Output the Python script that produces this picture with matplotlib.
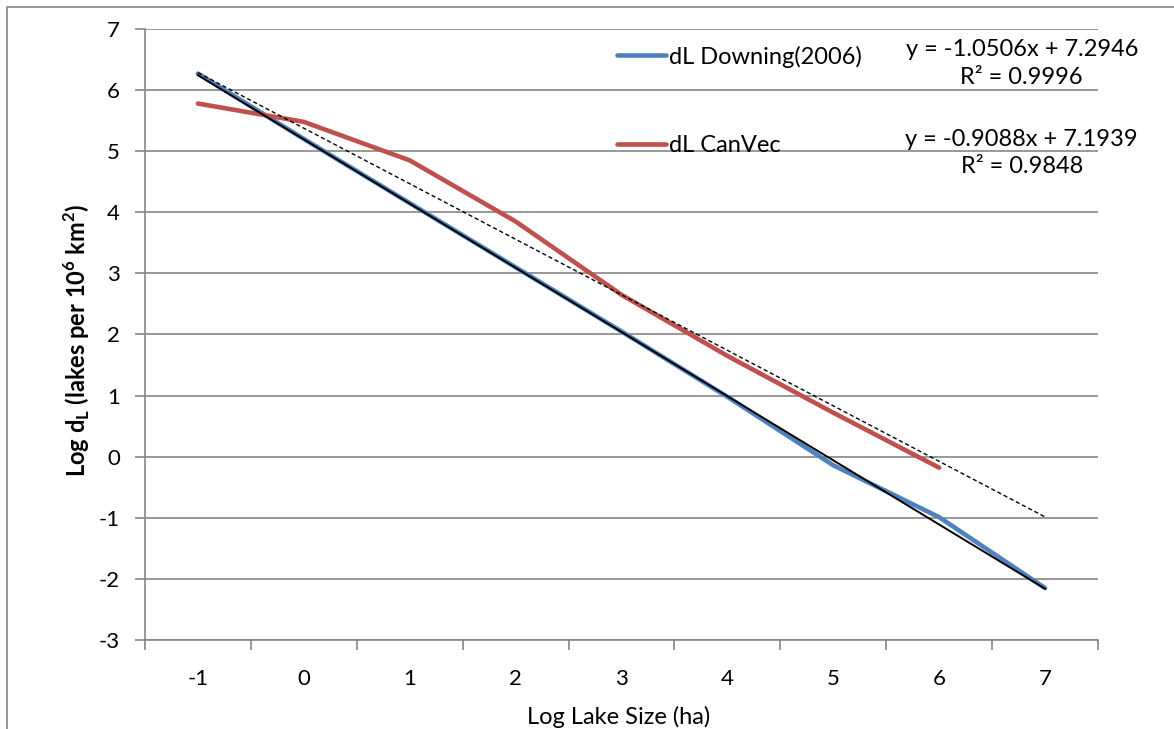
import numpy as np
import matplotlib.pyplot as plt
from matplotlib.patches import Rectangle

plt.rcParams['font.family'] = ['Lato', 'DejaVu Sans']
plt.rcParams['axes.unicode_minus'] = False
plt.rcParams['mathtext.fontset'] = 'custom'
plt.rcParams['mathtext.rm'] = 'Lato'
plt.rcParams['mathtext.bf'] = 'Lato:bold'

# data
categories = ["-1", "0", "1", "2", "3", "4", "5", "6", "7"]
downing = [6.27, 5.20, 4.15, 3.10, 2.05, 0.98, -0.14, -0.99, -2.15]
canvec = [5.78, 5.48, 4.85, 3.85, 2.65, 1.65, 0.72, -0.18]
fit_downing = (-1.0506, 7.2946, 0.9996)
fit_canvec = (-0.9088, 7.1939, 0.9848)

blue = "#4F81BD"
red = "#C0504D"
grid_c = "#868686"
W, H = 1174, 729

fig = plt.figure(figsize=(W / 100, H / 100), dpi=100)
ax = fig.add_axes([145 / W, 1 - 640 / H, (1098 - 145) / W, (640 - 29) / H])

# outer chart border
fig.patches.append(Rectangle((7 / W, -0.1), 1.2, 1 - 7 / H + 0.1,
                             transform=fig.transFigure, fill=False,
                             edgecolor=grid_c, lw=1.2))

# Excel category positions 1..n
xd = np.arange(1, len(downing) + 1)
xc = np.arange(1, len(canvec) + 1)

ax.plot(xd, downing, color=blue, lw=3.3, solid_capstyle="round",
        solid_joinstyle="round", label="dL Downing(2006)", zorder=3)
ax.plot(xc, canvec, color=red, lw=3.3, solid_capstyle="round",
        solid_joinstyle="round", label="dL CanVec", zorder=3)

# linear trendlines, from the displayed equations
xt = np.array([1, len(categories)])
ax.plot(xt, fit_downing[0] * xt + fit_downing[1], color="black", lw=1.4, zorder=4)
ax.plot(xt, fit_canvec[0] * xt + fit_canvec[1], color="black", lw=1, ls=(0, (3, 2)), zorder=4)

ax.set_xlim(0.5, len(categories) + 0.5)
ax.set_ylim(-3, 7)
ax.set_yticks(np.arange(-3, 8, 1))
ax.set_xticks(xd)
ax.set_xticklabels(categories)
ax.set_xticks(np.arange(0.5, len(categories) + 1, 1), minor=True)
ax.tick_params(axis="x", which="major", length=0, pad=21, labelsize=16)
ax.tick_params(axis="x", which="minor", length=7, color=grid_c, width=1.2)
ax.tick_params(axis="y", length=7, color=grid_c, width=1.2, labelsize=16, pad=11)

ax.grid(axis="y", color=grid_c, lw=1.2)
ax.set_axisbelow(True)
for s in ["top", "right"]:
    ax.spines[s].set_visible(False)
for s in ["left", "bottom"]:
    ax.spines[s].set_color(grid_c)
    ax.spines[s].set_linewidth(1.2)

ax.set_xlabel("Log Lake Size (ha)", fontsize=17)
ax.xaxis.set_label_coords(0.497, -0.108)
ax.set_ylabel(r"Log d$_\mathbf{L}$ (lakes per 10$^\mathbf{6}$ km$^\mathbf{2}$)",
              fontsize=17, fontweight="bold")
ax.yaxis.set_label_coords(-0.056, 0.491)

ax.legend(loc="upper left", bbox_to_anchor=(0.495, 0.973), frameon=False,
          fontsize=17, handlelength=2.1, handletextpad=0.12,
          labelspacing=2.85, borderaxespad=0, borderpad=0)

# trendline equations
ax.text(0.92, 0.943, f"y = {fit_downing[0]}x + {fit_downing[1]}\nR² = {fit_downing[2]}",
        transform=ax.transAxes, ha="center", va="center", fontsize=17, linespacing=1.4)
ax.text(0.92, 0.797, f"y = {fit_canvec[0]}x + {fit_canvec[1]}\nR² = {fit_canvec[2]}",
        transform=ax.transAxes, ha="center", va="center", fontsize=17, linespacing=1.4)

fig.savefig("out.png", dpi=100)
